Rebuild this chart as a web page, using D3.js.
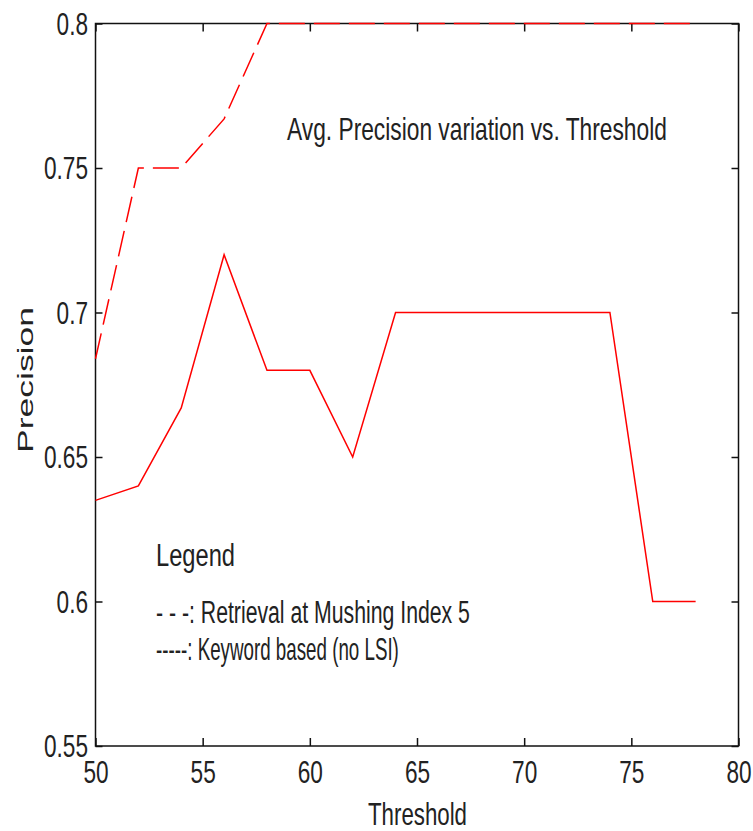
<!DOCTYPE html>
<html>
<head>
<meta charset="utf-8">
<script src="https://cdn.jsdelivr.net/npm/d3@7/dist/d3.min.js"></script>
<style>
  html, body { margin: 0; padding: 0; background: #fff; }
  svg { display: block; }
  text { font-family: "Liberation Sans", Arial, sans-serif; fill: #222; }
</style>
</head>
<body>
<svg id="chart" width="753" height="831"></svg>
<script>
// Threshold values on the x axis
const thresholds = [50, 52, 54, 56, 58, 60, 62, 64, 66, 68, 70, 72, 74, 76, 78];
// Average precision, retrieval at mushing index 5 (dashed)
const mushingPrecision = [0.684, 0.75, 0.75, 0.767, 0.8, 0.8, 0.8, 0.8, 0.8, 0.8, 0.8, 0.8, 0.8, 0.8, 0.8];
// Average precision, keyword based without LSI (solid)
const keywordPrecision = [0.635, 0.64, 0.667, 0.72, 0.68, 0.68, 0.65, 0.70, 0.70, 0.70, 0.70, 0.70, 0.70, 0.60, 0.60];
// Tick values
const xTicks = [50, 55, 60, 65, 70, 75, 80];
const yTicks = [0.55, 0.6, 0.65, 0.7, 0.75, 0.8];
const yTickLabels = ["0.55", "0.6", "0.65", "0.7", "0.75", "0.8"];

const svg = d3.select("#chart");
const plotLeft = 95.5, plotRight = 738.5, plotTop = 23.5, plotBottom = 746;
const FONT = 31, SQUEEZE = 0.73;

const x = d3.scaleLinear().domain([50, 80]).range([plotLeft, plotRight]);
const y = d3.scaleLinear().domain([0.55, 0.8]).range([plotBottom, plotTop]);

// Axes with inward ticks on all four sides
function styleAxis(g) {
  g.select(".domain").remove();
  g.selectAll(".tick line").attr("stroke", "#111").attr("stroke-width", 1.5);
  g.selectAll("text").style("font-size", FONT + "px").attr("fill", "#222");
}

svg.append("g").attr("transform", `translate(0,${plotBottom})`)
  .call(d3.axisBottom(x).tickValues(xTicks).tickSizeInner(-8).tickSizeOuter(0).tickPadding(15).tickFormat(d3.format("d")))
  .call(styleAxis)
  .call(g => g.selectAll("text").attr("transform", `scale(${SQUEEZE},1)`));

svg.append("g").attr("transform", `translate(${plotLeft},0)`)
  .call(d3.axisLeft(y).tickValues(yTicks).tickSizeInner(-7).tickSizeOuter(0)
    .tickFormat((d, i) => yTickLabels[i]))
  .call(styleAxis)
  .call(g => g.selectAll("text").attr("x", -7.5 / SQUEEZE).attr("dy", "0.34em")
    .attr("transform", `scale(${SQUEEZE},1)`));

svg.append("g").attr("transform", `translate(0,${plotTop})`)
  .call(d3.axisTop(x).tickValues(xTicks).tickSizeInner(-8).tickSizeOuter(0).tickFormat(""))
  .call(styleAxis);

svg.append("g").attr("transform", `translate(${plotRight},0)`)
  .call(d3.axisRight(y).tickValues(yTicks).tickSizeInner(-7).tickSizeOuter(0).tickFormat(""))
  .call(styleAxis);

// Plot frame
svg.append("rect")
  .attr("x", plotLeft).attr("y", plotTop)
  .attr("width", plotRight - plotLeft).attr("height", plotBottom - plotTop)
  .attr("fill", "none").attr("stroke", "#111").attr("stroke-width", 1.5);

// Series lines
const line = d3.line().x(d => x(d[0])).y(d => y(d[1]));

svg.append("path")
  .datum(thresholds.map((t, i) => [t, keywordPrecision[i]]))
  .attr("d", line)
  .attr("fill", "none").attr("stroke", "#ff0000").attr("stroke-width", 1.5);

svg.append("path")
  .datum(thresholds.map((t, i) => [t, mushingPrecision[i]]))
  .attr("d", line)
  .attr("fill", "none").attr("stroke", "#ff0000").attr("stroke-width", 1.5)
  .attr("stroke-dasharray", "26,9");

// Condensed labels: measure the natural width, then squeeze horizontally to fit
function label(txt, px, py, width, anchor) {
  const t = svg.append("text")
    .attr("text-anchor", anchor || "start")
    .style("font-size", FONT + "px")
    .text(txt);
  const k = width / t.node().getComputedTextLength();
  t.attr("transform", `translate(${px},${py}) scale(${k},1)`);
}

label("Avg. Precision variation vs. Threshold", 287, 140, 380);
label("Legend", 156, 566, 79);
label("- - -: Retrieval at Mushing Index 5", 156, 623, 314);
label("-----: Keyword based (no LSI)", 156, 660, 243);
label("Threshold", 417.5, 825, 99, "middle");

// Vertical axis title
const yTitle = svg.append("text")
  .attr("text-anchor", "middle")
  .style("font-size", FONT + "px")
  .text("Precision");
const kLen = 146 / yTitle.node().getComputedTextLength();
yTitle.attr("transform", `translate(33,380) rotate(-90) scale(${kLen},${SQUEEZE})`);
</script>
</body>
</html>
